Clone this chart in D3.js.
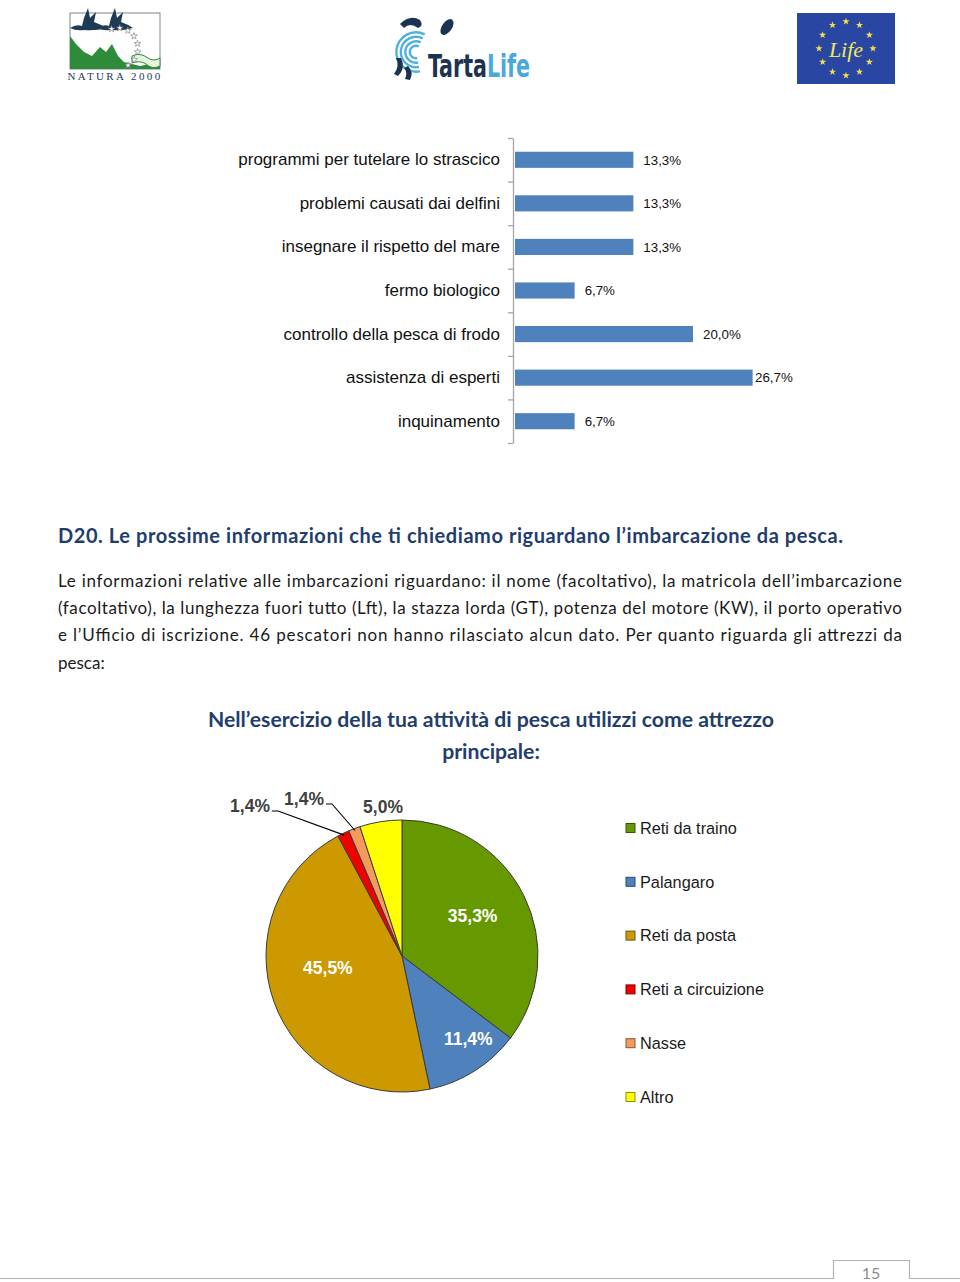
<!DOCTYPE html>
<html>
<head>
<meta charset="utf-8">
<script src="https://cdn.jsdelivr.net/npm/d3@7/dist/d3.min.js"></script>
<style>
  body { margin: 0; background: #fff; }
  svg { display: block; }
</style>
</head>
<body>
<svg id="page" width="960" height="1282"></svg>
<script>
// ---- data: bar chart (top of page)
const barCategories = [
    "programmi per tutelare lo strascico",
    "problemi causati dai delfini",
    "insegnare il rispetto del mare",
    "fermo biologico",
    "controllo della pesca di frodo",
    "assistenza di esperti",
    "inquinamento"
];
const barValues = [13.3, 13.3, 13.3, 6.7, 20.0, 26.7, 6.7];

// ---- data: pie chart
const pieCategories = ["Reti da traino", "Palangaro", "Reti da posta", "Reti a circuizione", "Nasse", "Altro"];
const pieValues = [35.3, 11.4, 45.5, 1.4, 1.4, 5.0];
const pieColors = ["#669900", "#4f81bd", "#cc9900", "#f00000", "#f39a5c", "#ffff00"];
const pieTitle = ["Nell\u2019esercizio della tua attivit\u00e0 di pesca utilizzi come attrezzo", "principale:"];

// ---- text of the page
const heading = "D20. Le prossime informazioni che ti chiediamo riguardano l\u2019imbarcazione da pesca.";
const paragraphLines = [
    "Le informazioni relative alle imbarcazioni riguardano: il nome (facoltativo), la matricola dell\u2019imbarcazione",
    "(facoltativo), la lunghezza fuori tutto (Lft), la stazza lorda (GT), potenza del motore (KW), il porto operativo",
    "e l\u2019Ufficio di iscrizione. 46 pescatori non hanno rilasciato alcun dato. Per quanto riguarda gli attrezzi da",
    "pesca:"
];
const pageNumber = "15";

const svg = d3.select("#page");
const fmt = v => d3.format(".1f")(v).replace(".", ",") + "%";
const calibri = "Lato, 'Open Sans', sans-serif";
const arial = "'Liberation Sans', Arial, sans-serif";

// ================= header logos =================
function drawLogos() {
    // Natura 2000
    const n = svg.append("g").attr("class", "natura");
    n.append("rect").attr("x", 70).attr("y", 13).attr("width", 90).attr("height", 56)
        .attr("fill", "#fff").attr("stroke", "#5a6a70").attr("stroke-width", 0.8);
    n.append("path")
        .attr("d", "M70,36 L76,44 L84,52 L92,56 L100,47 L106,52 L112,44 L118,56 L124,62 L140,66 L160,62 L160,69 L70,69 Z")
        .attr("fill", "#2e8b3a");
    n.append("path")
        .attr("d", "M132,56 Q140,52 148,58 Q154,62 160,58 L160,66 Q152,70 146,64 Q140,60 132,63 Z")
        .attr("fill", "#e8f4e0").attr("stroke", "#2e8b3a").attr("stroke-width", 1);
    // two flying geese
    const goose = "M0,14 Q6,10 12,12 L14,4 L18,-6 L20,4 Q22,2 26,-2 L24,8 Q30,10 36,14 Q26,17 14,16 Q6,17 0,14 Z";
    n.append("path").attr("d", goose).attr("transform", "translate(70,14)").attr("fill", "#1d3b55");
    n.append("path").attr("d", goose).attr("transform", "translate(97,14)").attr("fill", "#1d3b55");
    const starPts = d3.range(8).map(i => {
        const a = -1.9 + i * 0.42;
        return [118 + 20 * Math.cos(a), 48 + 20 * Math.sin(a)];
    });
    n.selectAll("path.star").data(starPts).join("path").attr("class", "star")
        .attr("transform", d => `translate(${d[0]},${d[1]})`)
        .attr("d", d3.symbol(d3.symbolStar, 14))
        .attr("fill", "#fff").attr("stroke", "#777").attr("stroke-width", 0.6);
    n.append("text").attr("x", 115).attr("y", 80).attr("text-anchor", "middle")
        .attr("font-family", "'Liberation Serif', serif").attr("font-size", 11)
        .attr("letter-spacing", 2.4).attr("fill", "#1d3b55").text("NATURA 2000");

    // TartaLife
    const t = svg.append("g").attr("class", "tarta");
    d3.range(4).forEach(i => {
        const r = 5 + i * 4.5;
        t.append("path")
            .attr("d", d3.arc()({ innerRadius: r, outerRadius: r + 2.4, startAngle: -0.2, endAngle: 3.6 }))
            .attr("transform", "translate(416,52) rotate(180)")
            .attr("fill", "#4fb0e0");
    });
    t.append("path").attr("d", "M400,24 Q410,14 420,20 Q424,26 418,28 Q410,22 404,28 Z").attr("fill", "#1b3250");
    t.append("ellipse").attr("cx", 447).attr("cy", 27).attr("rx", 5).attr("ry", 9)
        .attr("transform", "rotate(35,447,27)").attr("fill", "#1b3250");
    t.append("path").attr("d", "M396,58 Q400,66 394,74 L398,76 Q406,68 401,58 Z").attr("fill", "#1b3250");
    t.append("path").attr("d", "M408,66 Q414,72 410,80 L405,79 Q408,72 404,68 Z").attr("fill", "#1b3250");
    // one text element, narrowed horizontally to the logo's condensed lettering
    const word = t.append("text").attr("x", 0).attr("y", 0)
        .attr("font-family", "'DejaVu Sans Condensed', 'DejaVu Sans', sans-serif")
        .attr("font-weight", "bold").attr("font-size", 32);
    word.append("tspan").attr("fill", "#1b3250").text("Tarta");
    word.append("tspan").attr("fill", "#4aa8dc").text("Life");
    const w = word.node().getComputedTextLength();
    word.attr("transform", `translate(428,77) scale(${102 / w},1)`);

    // EU LIFE
    const e = svg.append("g").attr("class", "eulife");
    e.append("rect").attr("x", 797).attr("y", 13).attr("width", 98).attr("height", 71).attr("fill", "#2a46a3");
    const stars = d3.range(12).map(i => [846 + 27 * Math.cos(i * Math.PI / 6), 48.5 + 27 * Math.sin(i * Math.PI / 6)]);
    e.selectAll("path.s").data(stars).join("path").attr("class", "s")
        .attr("transform", d => `translate(${d[0]},${d[1]})`)
        .attr("d", d3.symbol(d3.symbolStar, 16)).attr("fill", "#f5e04a");
    e.append("text").attr("x", 846).attr("y", 57).attr("text-anchor", "middle")
        .attr("font-family", "'Liberation Serif', serif").attr("font-style", "italic")
        .attr("font-size", 22).attr("fill", "#f0e858").text("Life");
}

// ================= bar chart =================
function drawBars() {
    const g = svg.append("g").attr("class", "bars");
    const x = d3.scaleLinear().domain([0, 30]).range([515, 782]);
    const y = d3.scaleBand().domain(barCategories).range([138, 443])
        .paddingInner(0.63).paddingOuter(0.315);

    // axis line with ticks on category boundaries
    const yb = d3.scaleLinear().domain([0, barCategories.length]).range([138, 443]);
    g.append("g").attr("transform", "translate(513,0)")
        .call(d3.axisLeft(yb).tickValues(d3.range(barCategories.length + 1)).tickSize(5).tickSizeOuter(0).tickFormat(""))
        .call(a => a.selectAll("path,line").attr("stroke", "#a6a6a6").attr("stroke-width", 1.3));

    // category labels
    g.append("g").attr("transform", "translate(500,0)")
        .call(d3.axisLeft(y).tickSize(0).tickPadding(0))
        .call(a => a.select(".domain").remove())
        .call(a => a.selectAll("text").attr("font-family", arial).attr("font-size", 17).attr("fill", "#111"));

    g.selectAll("rect.bar").data(barValues).join("rect").attr("class", "bar")
        .attr("x", x(0)).attr("y", (d, i) => y(barCategories[i]))
        .attr("width", d => x(d) - x(0)).attr("height", y.bandwidth())
        .attr("fill", "#4f81bd");

    g.selectAll("text.val").data(barValues).join("text").attr("class", "val")
        .attr("x", d => Math.min(x(d) + 10, 755))
        .attr("y", (d, i) => y(barCategories[i]) + y.bandwidth() / 2)
        .attr("dy", "0.36em")
        .attr("font-family", arial).attr("font-size", 13.3).attr("fill", "#111")
        .text(fmt);
}

// ================= heading and paragraph =================
function drawText() {
    svg.append("text").attr("x", 58).attr("y", 543)
        .attr("font-family", calibri).attr("font-weight", "bold").attr("font-size", 20)
        .attr("fill", "#1f3d6d").attr("textLength", 785).attr("lengthAdjust", "spacing")
        .text(heading);

    svg.selectAll("text.para").data(paragraphLines).join("text").attr("class", "para")
        .attr("x", 58).attr("y", (d, i) => 587 + i * 27.2)
        .attr("font-family", calibri).attr("font-size", 17).attr("fill", "#1a1a1a")
        .each(function (d, i) {
            if (i < paragraphLines.length - 1) d3.select(this).attr("textLength", 844).attr("lengthAdjust", "spacing");
        })
        .text(d => d);

    svg.selectAll("text.ptitle").data(pieTitle).join("text").attr("class", "ptitle")
        .attr("x", 491).attr("y", (d, i) => 727 + i * 32).attr("text-anchor", "middle")
        .attr("font-family", calibri).attr("font-weight", "bold").attr("font-size", 21.2)
        .attr("fill", "#1f3d6d")
        .text(d => d);
}

// ================= pie chart =================
function drawPie() {
    const cx = 402, cy = 956, R = 136;
    const g = svg.append("g").attr("class", "pie").attr("transform", `translate(${cx},${cy})`);
    const arcs = d3.pie().sort(null).value(d => d)(pieValues);
    const arc = d3.arc().innerRadius(0).outerRadius(R);

    g.selectAll("path.slice").data(arcs).join("path").attr("class", "slice")
        .attr("d", arc).attr("fill", (d, i) => pieColors[i])
        .attr("stroke", "#3a3a3a").attr("stroke-width", 1).attr("stroke-linejoin", "round");

    // inside labels: radius along the slice bisector plus a small Excel-like nudge
    const insideLayout = { 0: { r: 0.58, dx: 0, dy: -5 }, 1: { r: 0.8, dx: 8, dy: -9 }, 2: { r: 0.58, dx: 0, dy: -15 } };
    const inner = arcs.map((a, i) => ({ a, i })).filter(o => insideLayout[o.i]);
    g.selectAll("text.in").data(inner).join("text").attr("class", "in")
        .attr("transform", o => {
            const L = insideLayout[o.i];
            const c = d3.arc().innerRadius(R * L.r).outerRadius(R * L.r).centroid(o.a);
            return `translate(${c[0] + L.dx},${c[1] + L.dy})`;
        })
        .attr("text-anchor", "middle").attr("dy", "0.36em")
        .attr("font-family", arial).attr("font-weight", "bold").attr("font-size", 17.5)
        .attr("fill", "#fff").text(o => fmt(o.a.value));

    // outside labels for the small slices: label anchor offsets relative to the pie centre
    const outsideLayout = { 3: { dx: -132, dy: -150, leader: true }, 4: { dx: -78, dy: -157, leader: true }, 5: { dx: -19, dy: -149, leader: false } };
    arcs.forEach((d, i) => {
        const L = outsideLayout[i];
        if (!L) return;
        g.append("text").attr("x", L.dx).attr("y", L.dy)
            .attr("text-anchor", L.leader ? "end" : "middle").attr("dy", "0.36em")
            .attr("font-family", arial).attr("font-weight", "bold").attr("font-size", 17.5)
            .attr("fill", "#404040").text(fmt(d.value));
        if (L.leader) {
            const edge = d3.arc().innerRadius(R - 2).outerRadius(R - 2).centroid(d);
            const ly = L.dy + 5;
            g.append("polyline")
                .attr("points", [[L.dx + 2, ly], [L.dx + 8, ly], edge].map(p => p.join(",")).join(" "))
                .attr("fill", "none").attr("stroke", "#000").attr("stroke-width", 1.1);
        }
    });

    // legend
    const lg = svg.append("g").attr("class", "legend");
    const ly = d3.scalePoint().domain(pieCategories).range([828, 1097]);
    const items = lg.selectAll("g").data(pieCategories).join("g")
        .attr("transform", d => `translate(626,${ly(d)})`);
    items.append("rect").attr("x", 0).attr("y", -4.5).attr("width", 9).attr("height", 9)
        .attr("fill", (d, i) => pieColors[i])
        .attr("stroke", (d, i) => d3.color(pieColors[i]).darker(1.6)).attr("stroke-width", 1);
    items.append("text").attr("x", 14).attr("dy", "0.36em")
        .attr("font-family", arial).attr("font-size", 16.3).attr("fill", "#1a1a1a").text(d => d);
}

// ================= footer =================
function drawFooter() {
    svg.append("path")
        .attr("d", "M0,1278.5 H833.5 V1260.5 H909.5 V1278.5 H960")
        .attr("fill", "none").attr("stroke", "#b3b3b3").attr("stroke-width", 1.2);
    svg.append("text").attr("x", 871).attr("y", 1279).attr("text-anchor", "middle")
        .attr("font-family", calibri).attr("font-size", 16).attr("fill", "#8c8c8c").text(pageNumber);
}

drawLogos();
drawBars();
drawText();
drawPie();
drawFooter();
</script>
</body>
</html>
